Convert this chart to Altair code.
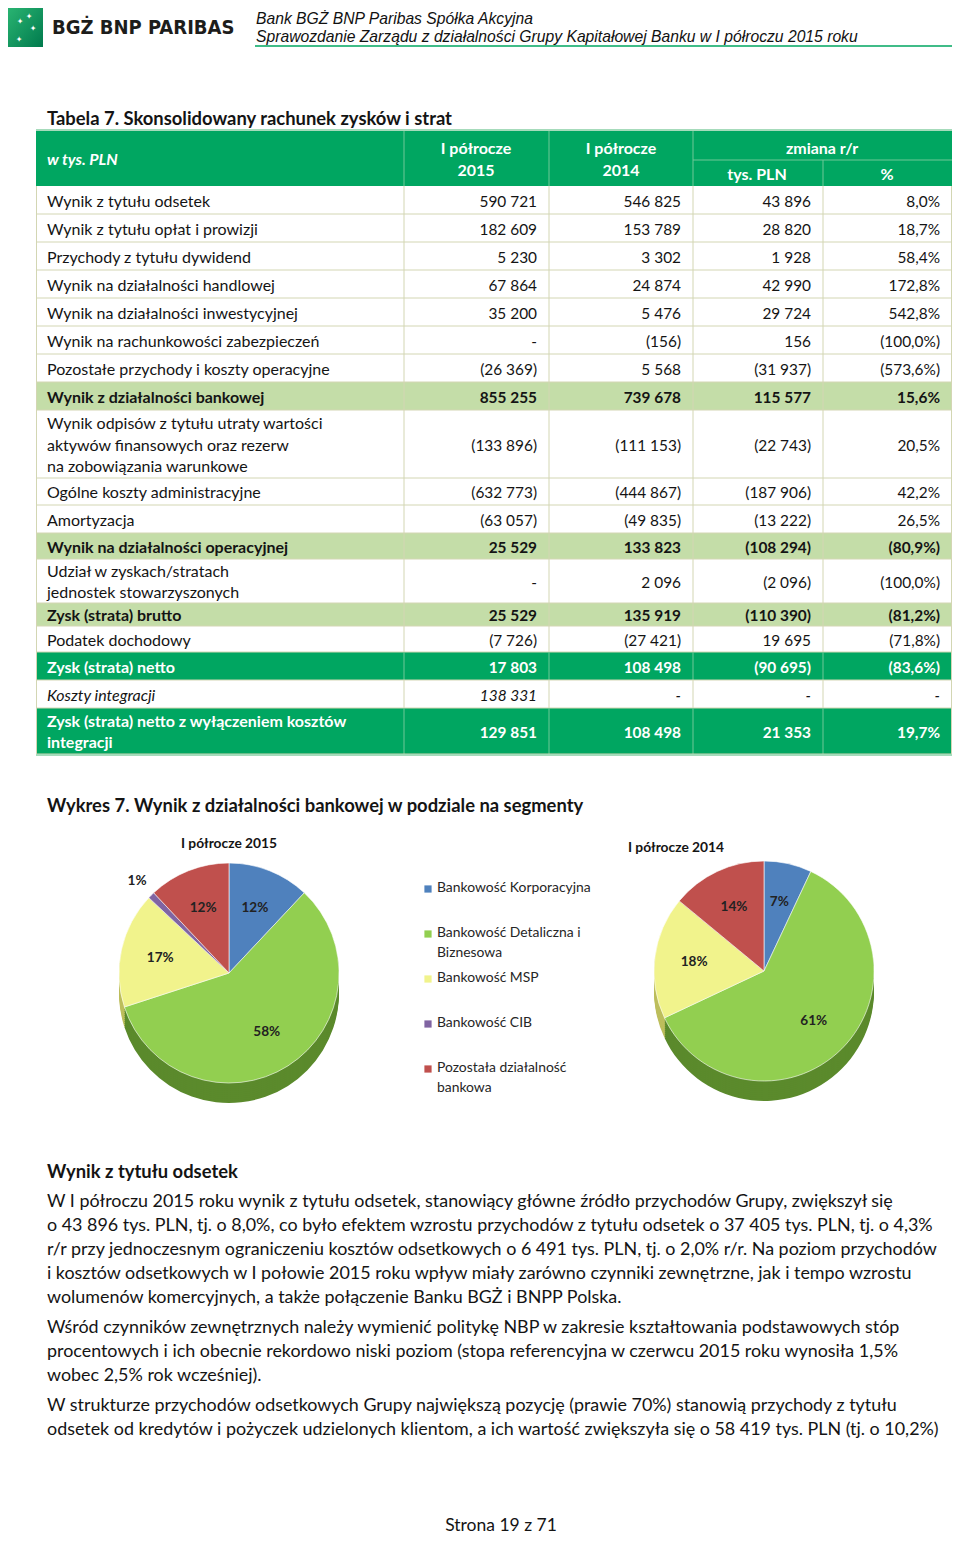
import altair as alt
import pandas as pd

# ---------------- data ----------------
row_labels = [
    "Wynik z tytułu odsetek",
    "Wynik z tytułu opłat i prowizji",
    "Przychody z tytułu dywidend",
    "Wynik na działalności handlowej",
    "Wynik na działalności inwestycyjnej",
    "Wynik na rachunkowości zabezpieczeń",
    "Pozostałe przychody i koszty operacyjne",
    "Wynik z działalności bankowej",
    "Wynik odpisów z tytułu utraty wartości\naktywów finansowych oraz rezerw\nna zobowiązania warunkowe",
    "Ogólne koszty administracyjne",
    "Amortyzacja",
    "Wynik na działalności operacyjnej",
    "Udział w zyskach/stratach\njednostek stowarzyszonych",
    "Zysk (strata) brutto",
    "Podatek dochodowy",
    "Zysk (strata) netto",
    "Koszty integracji",
    "Zysk (strata) netto z wyłączeniem kosztów\nintegracji",
]
h1_2015 = ["590 721", "182 609", "5 230", "67 864", "35 200", "-", "(26 369)", "855 255",
           "(133 896)", "(632 773)", "(63 057)", "25 529", "-", "25 529", "(7 726)",
           "17 803", "138 331", "129 851"]
h1_2014 = ["546 825", "153 789", "3 302", "24 874", "5 476", "(156)", "5 568", "739 678",
           "(111 153)", "(444 867)", "(49 835)", "133 823", "2 096", "135 919", "(27 421)",
           "108 498", "-", "108 498"]
chg_pln = ["43 896", "28 820", "1 928", "42 990", "29 724", "156", "(31 937)", "115 577",
           "(22 743)", "(187 906)", "(13 222)", "(108 294)", "(2 096)", "(110 390)", "19 695",
           "(90 695)", "-", "21 353"]
chg_pct = ["8,0%", "18,7%", "58,4%", "172,8%", "542,8%", "(100,0%)", "(573,6%)", "15,6%",
           "20,5%", "42,2%", "26,5%", "(80,9%)", "(100,0%)", "(81,2%)", "(71,8%)",
           "(83,6%)", "-", "19,7%"]
# n = normal, s = subtotal, t = total, i = italic
row_kind = ["n", "n", "n", "n", "n", "n", "n", "s", "n", "n", "n", "s", "n", "s", "n", "t", "i", "t"]

segments = ["Bankowość Korporacyjna", "Bankowość Detaliczna i Biznesowa", "Bankowość MSP",
            "Bankowość CIB", "Pozostała działalność bankowa"]
legend_text = ["Bankowość Korporacyjna", "Bankowość Detaliczna i\nBiznesowa", "Bankowość MSP",
               "Bankowość CIB", "Pozostała działalność\nbankowa"]
share_2015 = [12, 58, 17, 1, 12]
share_2014 = [7, 61, 18, 0, 14]
pie_titles = ["I półrocze 2015", "I półrocze 2014"]

page_header = ["Bank BGŻ BNP Paribas Spółka Akcyjna",
               "Sprawozdanie Zarządu z działalności Grupy Kapitałowej Banku w I półroczu 2015 roku"]
table_title = "Tabela 7. Skonsolidowany rachunek zysków i strat"
chart_title = "Wykres 7. Wynik z działalności bankowej w podziale na segmenty"
section_title = "Wynik z tytułu odsetek"
paragraph_lines = [
    "W I półroczu 2015 roku wynik z tytułu odsetek, stanowiący główne źródło przychodów Grupy, zwiększył się",
    "o 43 896 tys. PLN, tj. o 8,0%, co było efektem wzrostu przychodów z tytułu odsetek o 37 405 tys. PLN, tj. o 4,3%",
    "r/r przy jednoczesnym ograniczeniu kosztów odsetkowych o 6 491 tys. PLN, tj. o 2,0% r/r. Na poziom przychodów",
    "i kosztów odsetkowych w I połowie 2015 roku wpływ miały zarówno czynniki zewnętrzne, jak i tempo wzrostu",
    "wolumenów komercyjnych, a także połączenie Banku BGŻ i BNPP Polska.",
    "Wśród czynników zewnętrznych należy wymienić politykę NBP w zakresie kształtowania podstawowych stóp",
    "procentowych i ich obecnie rekordowo niski poziom (stopa referencyjna w czerwcu 2015 roku wynosiła 1,5%",
    "wobec 2,5% rok wcześniej).",
    "W strukturze przychodów odsetkowych Grupy największą pozycję (prawie 70%) stanowią przychody z tytułu",
    "odsetek od kredytów i pożyczek udzielonych klientom, a ich wartość zwiększyła się o 58 419 tys. PLN (tj. o 10,2%)",
]
footer = "Strona 19 z 71"

# ---------------- layout / style ----------------
FONT = "Lato"
GREEN = "#00A661"
LIGHT = "#C4DDA8"
GRID = "#D3D6B3"
HDR_LINE = "#6FC898"
INK = "#141414"
seg_colors = ["#4F81BD", "#92CF50", "#F1F38C", "#8064A2", "#C0504D"]
seg_dark = ["#34598A", "#5B8A2C", "#BDBE5C", "#57437A", "#8C3431"]

XS = alt.Scale(domain=[8, 952], nice=False, zero=False)
YS = alt.Scale(domain=[8, 1533], reverse=True, nice=False, zero=False)

COLS = [36, 404, 549, 693, 823, 952]
ROW_H = [28, 28, 28, 28, 28, 28, 28, 28, 68, 27, 28, 26, 44, 23, 26, 28, 28, 46]
BODY_TOP = 186
LH = 21.5
BODY_FS = 16.0
NUM_FS = 15.4
TITLE_FS = 18.4
DY = 1.5


def X(f):
    return alt.X(f, type="quantitative", scale=XS, axis=None)


def Y(f):
    return alt.Y(f, type="quantitative", scale=YS, axis=None)


def text_layer(df, align="left", size=15.0, weight="normal", style="normal", color=INK,
               font=FONT, line_height=LH, baseline="middle"):
    return alt.Chart(df).mark_text(
        align=align, baseline=baseline, fontSize=size, fontWeight=weight, fontStyle=style,
        color=color, font=font, lineBreak="\n", lineHeight=line_height, dy=DY
    ).encode(x=X("x"), y=Y("y"), text="t:N")


def rect_layer(df):
    return alt.Chart(df).mark_rect().encode(
        x=X("x0"), x2="x1:Q", y=Y("y0"), y2="y1:Q", fill=alt.Fill("c:N", scale=None))


def rule_layer(df, width=1.0):
    return alt.Chart(df).mark_rule(strokeWidth=width).encode(
        x=X("x0"), x2="x1:Q", y=Y("y0"), y2="y1:Q", stroke=alt.Stroke("c:N", scale=None))


layers = []

# ---------------- page header ----------------
logo = pd.DataFrame({"x0": [8], "x1": [43], "y0": [5], "y1": [47]})
layers.append(alt.Chart(logo).mark_rect(
    color=alt.Gradient(gradient="linear", x1=0, y1=0, x2=1, y2=1,
                       stops=[alt.GradientStop(color="#2BB673", offset=0),
                              alt.GradientStop(color="#007A4D", offset=1)])
).encode(x=X("x0"), x2="x1:Q", y=Y("y0"), y2="y1:Q"))
stars = pd.DataFrame({"x": [29, 20, 33, 19], "y": [15, 20, 27, 38], "t": ["✦", "✦", "✦", "✦"]})
layers.append(text_layer(stars, align="center", size=8, color="white", font="DejaVu Sans"))
layers.append(text_layer(pd.DataFrame({"x": [52], "y": [26], "t": ["BGŻ BNP PARIBAS"]}),
                         size=20.0, weight="bold", color="#1d1d1b",
                         font="Liberation Sans Narrow, DejaVu Sans Condensed, sans-serif"))
layers.append(text_layer(pd.DataFrame({"x": [256, 256], "y": [17, 35], "t": page_header}),
                         size=15.7, style="italic", color="#111", font="Liberation Sans"))
layers.append(rule_layer(pd.DataFrame({"x0": [255], "x1": [958], "y0": [46], "y1": [46], "c": [GREEN]}), 1.4))

# ---------------- table ----------------
layers.append(text_layer(pd.DataFrame({"x": [47], "y": [117], "t": [table_title]}),
                         size=TITLE_FS, weight="bold"))

rows = []
y = BODY_TOP
for i, lab in enumerate(row_labels):
    h = ROW_H[i]
    n_lines = lab.count("\n") + 1
    rows.append({"label": lab, "kind": row_kind[i], "y0": y, "y1": y + h, "yc": y + h / 2,
                 "ylab": y + h / 2 - (n_lines - 1) * LH / 2,
                 "vals": [h1_2015[i], h1_2014[i], chg_pln[i], chg_pct[i]]})
    y += h
TABLE_BOTTOM = y

bg_color = {"n": "#FFFFFF", "s": LIGHT, "t": GREEN, "i": "#FFFFFF"}
bg = pd.DataFrame([{"x0": COLS[0], "x1": COLS[-1], "y0": r["y0"], "y1": r["y1"],
                    "c": bg_color[r["kind"]]} for r in rows]
                  + [{"x0": COLS[0], "x1": COLS[-1], "y0": 131, "y1": BODY_TOP, "c": GREEN}])
layers.append(rect_layer(bg))

grid = []
for r in rows:
    col = HDR_LINE if r["kind"] == "t" else GRID
    for cx in COLS[1:-1]:
        grid.append({"x0": cx, "x1": cx, "y0": r["y0"], "y1": r["y1"], "c": col})
    grid.append({"x0": COLS[0], "x1": COLS[-1], "y0": r["y1"], "y1": r["y1"], "c": GRID})
grid.append({"x0": COLS[0] + 0.5, "x1": COLS[0] + 0.5, "y0": BODY_TOP, "y1": TABLE_BOTTOM, "c": GRID})
grid.append({"x0": COLS[-1] - 0.5, "x1": COLS[-1] - 0.5, "y0": BODY_TOP, "y1": TABLE_BOTTOM, "c": GRID})
for cx in COLS[1:4]:
    grid.append({"x0": cx, "x1": cx, "y0": 131, "y1": BODY_TOP, "c": HDR_LINE})
grid.append({"x0": COLS[4], "x1": COLS[4], "y0": 160, "y1": BODY_TOP, "c": HDR_LINE})
grid.append({"x0": COLS[3], "x1": COLS[-1], "y0": 160, "y1": 160, "c": HDR_LINE})
layers.append(rule_layer(pd.DataFrame(grid), 1.0))
layers.append(rule_layer(pd.DataFrame({"x0": [COLS[0], COLS[0]], "x1": [COLS[-1], COLS[-1]],
                                       "y0": [130, TABLE_BOTTOM + 1], "y1": [130, TABLE_BOTTOM + 1],
                                       "c": ["#A6DBBB", "#A6DBBB"]}), 2.0))

# header texts
hdr = pd.DataFrame({"x": [476, 476, 621, 621, 822, 757, 887],
                    "y": [147, 169, 147, 169, 147, 173, 173],
                    "t": ["I półrocze", "2015", "I półrocze", "2014", "zmiana r/r", "tys. PLN", "%"]})
layers.append(text_layer(hdr, align="center", size=BODY_FS, weight="bold", color="white"))
layers.append(text_layer(pd.DataFrame({"x": [47], "y": [158], "t": ["w tys. PLN"]}),
                         size=BODY_FS, weight="bold", style="italic", color="white"))

styles = {"n": dict(weight="normal", style="normal", color=INK),
          "s": dict(weight="bold", style="normal", color=INK),
          "t": dict(weight="bold", style="normal", color="white"),
          "i": dict(weight="normal", style="italic", color=INK)}
for k, st in styles.items():
    lab_df = pd.DataFrame([{"x": 47, "y": r["ylab"], "t": r["label"]} for r in rows if r["kind"] == k])
    val_df = pd.DataFrame([{"x": COLS[j + 2] - 12, "y": r["yc"], "t": v}
                           for r in rows if r["kind"] == k for j, v in enumerate(r["vals"])])
    layers.append(text_layer(lab_df, size=BODY_FS, **st))
    layers.append(text_layer(val_df, align="right", size=NUM_FS, **st))

# ---------------- pie charts ----------------
layers.append(text_layer(pd.DataFrame({"x": [47], "y": [804], "t": [chart_title]}),
                         size=TITLE_FS, weight="bold"))

pie_df = pd.DataFrame({
    "segment": segments * 2,
    "value": share_2015 + share_2014,
    "period": [pie_titles[0]] * 5 + [pie_titles[1]] * 5,
    "order": list(range(5)) * 2,
})
pie_df["dark"] = pie_df["segment"].map(dict(zip(segments, seg_dark)))

R = 110
DEPTH = 20
centers = {pie_titles[0]: (229, 973), pie_titles[1]: (764, 971)}
title_pos = {pie_titles[0]: (229, 842), pie_titles[1]: (676, 846)}
TSCALE = alt.Scale(domain=[0, 100])
THETA = alt.Theta("value:Q", stack=True, scale=TSCALE)
ORDER = alt.Order("order:Q")
COLOR = alt.Color("segment:N", scale=alt.Scale(domain=segments, range=seg_colors), legend=None)

for p in pie_titles:
    cx, cy = centers[p]
    base = alt.Chart(pie_df).transform_filter(f"datum.period == '{p}' && datum.value > 0")
    for d in range(DEPTH, 0, -2):
        layers.append(base.mark_arc(outerRadius=R).encode(
            x=alt.XDatum(cx, scale=XS, axis=None), y=alt.YDatum(cy + d, scale=YS, axis=None),
            theta=THETA, order=ORDER, fill=alt.Fill("dark:N", scale=None)))
    layers.append(base.mark_arc(outerRadius=R, stroke="white", strokeWidth=0.6).encode(
        x=alt.XDatum(cx, scale=XS, axis=None), y=alt.YDatum(cy, scale=YS, axis=None),
        theta=THETA, order=ORDER, color=COLOR))
    layers.append(base.transform_window(
        cum="sum(value)", sort=[alt.SortField("order", order="ascending")]
    ).transform_calculate(
        mid="datum.cum - datum.value / 2",
        lab="datum.value + '%'",
        lr=f"datum.value < 4 ? {R + 20} : {R * 0.64}"
    ).mark_text(fontSize=13.6, fontWeight="bold", font=FONT, color="#222").encode(
        x=alt.XDatum(cx, scale=XS, axis=None), y=alt.YDatum(cy, scale=YS, axis=None),
        theta=alt.Theta("mid:Q", scale=TSCALE, stack=None),
        radius=alt.Radius("lr:Q", scale=None), text="lab:N"))
    tx, ty = title_pos[p]
    layers.append(text_layer(pd.DataFrame({"x": [tx], "y": [ty], "t": [p]}),
                             align="center", size=13.8, weight="bold"))

# legend
LEG_Y = [889, 934, 979, 1024, 1069]
leg = pd.DataFrame({"segment": segments, "t": legend_text, "y": LEG_Y, "x": [428] * 5})
layers.append(alt.Chart(leg).mark_square(size=52, opacity=1).encode(
    x=X("x"), y=Y("y"), color=COLOR))
leg_t = leg.assign(x=437, y=[v - 9.5 for v in LEG_Y])
layers.append(text_layer(leg_t, size=13.9, color="#262626", line_height=20, baseline="top"))

# ---------------- text section ----------------
layers.append(text_layer(pd.DataFrame({"x": [47], "y": [1170], "t": [section_title]}),
                         size=TITLE_FS, weight="bold"))
PARA_Y = [1200, 1224, 1248, 1272, 1296, 1326, 1350, 1374, 1404, 1428]
layers.append(text_layer(pd.DataFrame({"x": [47] * len(paragraph_lines), "y": PARA_Y,
                                       "t": paragraph_lines}), size=17.9))
layers.append(text_layer(pd.DataFrame({"x": [501], "y": [1524], "t": [footer]}),
                         align="center", size=17.5))

chart = alt.layer(*layers).properties(
    width=944, height=1525, padding=0,
    autosize=alt.AutoSizeParams(type="none"),
    background="white",
).configure_view(stroke=None)

chart.save("out.html", embed_options={"renderer": "svg", "actions": False})
